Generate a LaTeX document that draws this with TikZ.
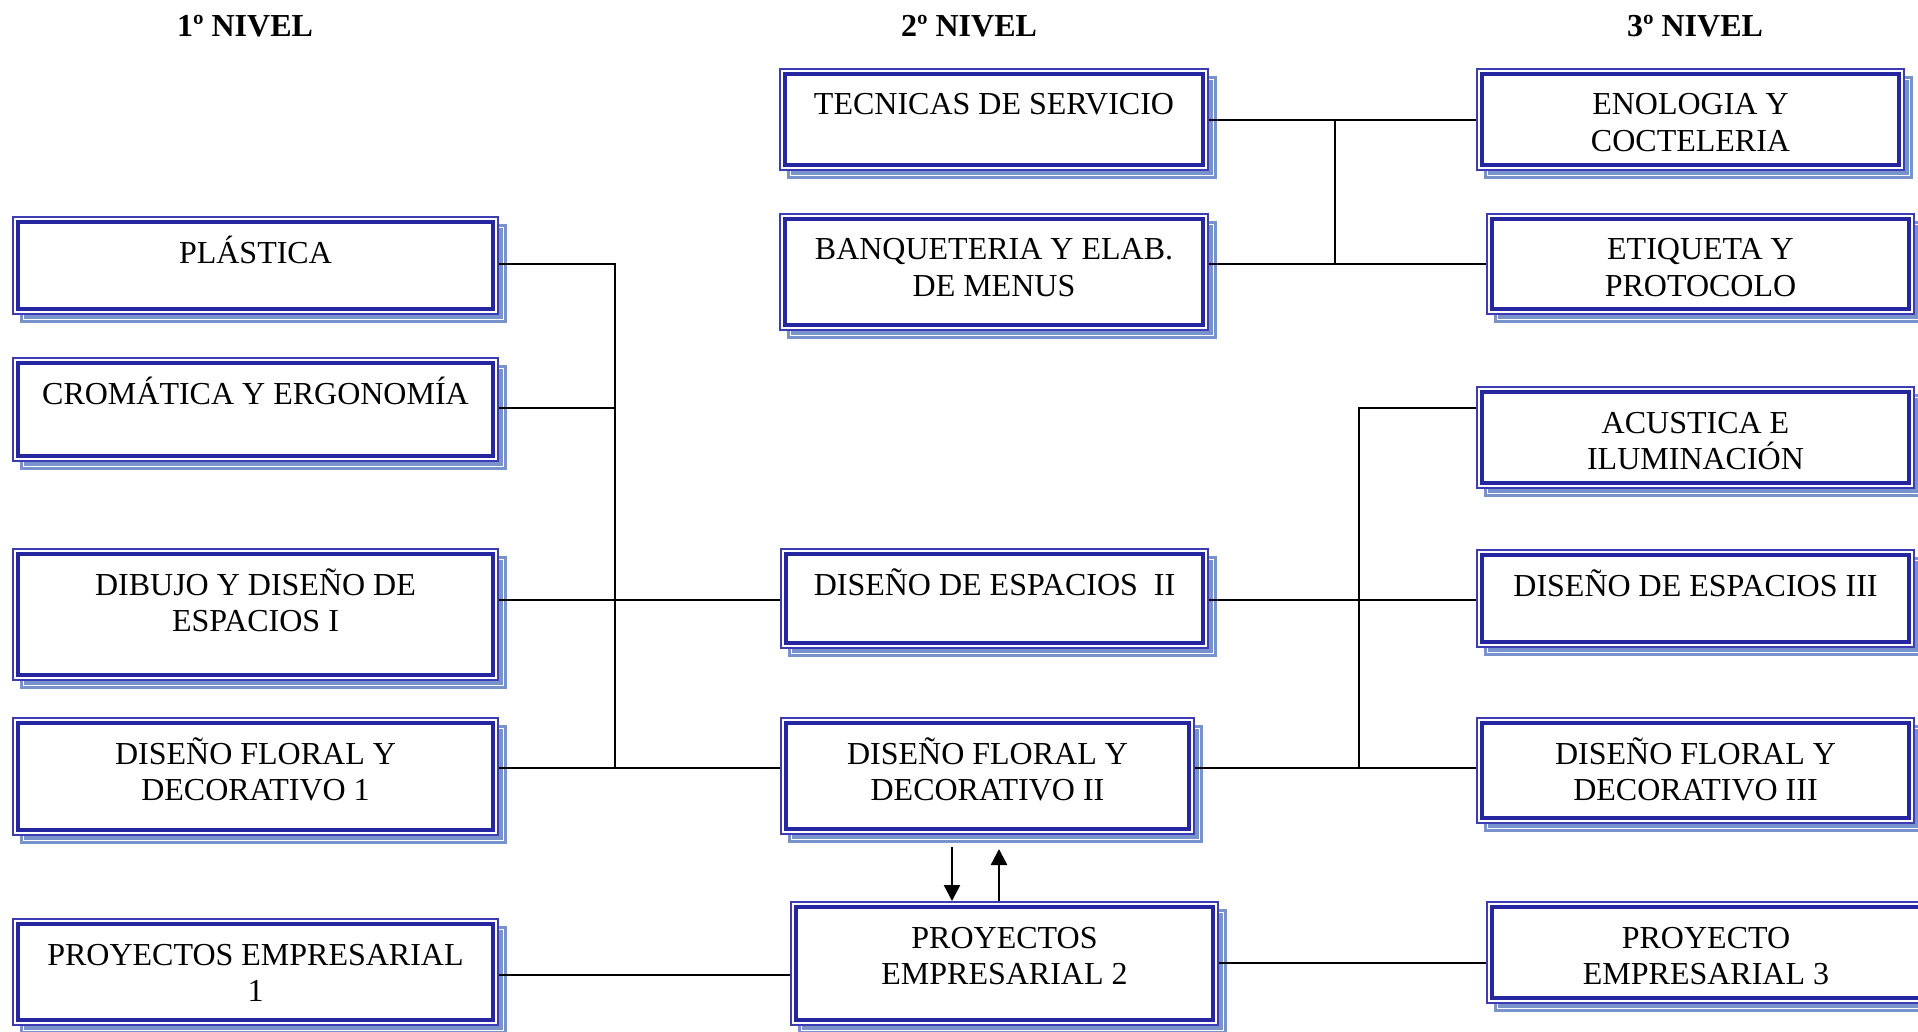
\documentclass[tikz,border=0pt]{standalone}
\usepackage{fontspec}
\setmainfont{Liberation Serif}
\usetikzlibrary{arrows.meta}
\definecolor{shblue}{RGB}{120,147,204}
\definecolor{bdout}{RGB}{60,60,180}
\definecolor{bdin}{RGB}{38,38,160}
\tikzset{
  txt/.style={inner sep=0pt, outer sep=0pt, align=center, font=\fontsize{32}{36.5}\selectfont},
  hdr/.style={inner sep=0pt, font=\fontsize{32}{36}\selectfont\bfseries},
  conn/.style={line width=1.9pt, black},
  arr/.style={line width=2.4pt, black, -{Triangle[length=16pt,width=16pt]}}
}
\newcommand\boxitem[6]{%
  \fill[shblue] ({#2+8},{#3+8}) rectangle ({#4+8},{#5+8});
  \draw[white,line width=1pt] ({#2+11.5},{#3+11.5}) rectangle ({#4+4.5},{#5+4.5});
  \node[inner sep=0pt, outer sep=0pt, fill=white, minimum width={#4-#2}, minimum height={#5-#3}, anchor=north west] (#1) at (#2,#3) {};
  \draw[bdout, line width=2.4pt] ({#2+1.2},{#3+1.2}) rectangle ({#4-1.2},{#5-1.2});
  \draw[bdin, line width=3.4pt] ({#2+6.1},{#3+6.1}) rectangle ({#4-6.1},{#5-6.1});
  \node[txt, anchor=north] at ({(#2+#4)/2},{#3+15}) {\rule{0pt}{1em}#6};
}
\begin{document}
\begin{tikzpicture}[x=1pt,y=-1pt]
\useasboundingbox (0,0) rectangle (1918,1032);
\fill[white] (0,0) rectangle (1918,1032);
\clip (0,0) rectangle (1918,1032);

% headers
\node[hdr, anchor=base] (h1) at (245,37) {1º NIVEL};
\node[hdr, anchor=base] (h2) at (969,37) {2º NIVEL};
\node[hdr, anchor=base] (h3) at (1695,37) {3º NIVEL};

% level 1
\boxitem{plas}{12}{216}{499}{315}{PLÁSTICA}
\boxitem{crom}{12}{357}{499}{462}{CROMÁTICA Y ERGONOMÍA}
\boxitem{dibu}{12}{548}{499}{681}{DIBUJO Y DISEÑO DE\\ESPACIOS I}
\boxitem{flo1}{12}{717}{499}{836}{DISEÑO FLORAL Y\\DECORATIVO 1}
\boxitem{pro1}{12}{918}{499}{1026}{PROYECTOS EMPRESARIAL\\1}

% level 2
\boxitem{tecn}{779}{68}{1209}{171}{TECNICAS DE SERVICIO}
\boxitem{banq}{779}{213}{1209}{331}{BANQUETERIA Y ELAB.\\DE MENUS}
\boxitem{esp2}{780}{548}{1209}{649}{DISEÑO DE ESPACIOS\ \ II}
\boxitem{flo2}{780}{717}{1195}{835}{DISEÑO FLORAL Y\\DECORATIVO II}
\boxitem{pro2}{790}{901}{1219}{1026}{PROYECTOS\\EMPRESARIAL 2}

% level 3
\boxitem{enol}{1476}{68}{1905}{171}{ENOLOGIA Y\\COCTELERIA}
\boxitem{etiq}{1486}{213}{1915}{315}{ETIQUETA Y\\PROTOCOLO}
\boxitem{acus}{1476}{386}{1915}{489}{ACUSTICA E\\ILUMINACIÓN}
\boxitem{esp3}{1476}{549}{1915}{648}{DISEÑO DE ESPACIOS III}
\boxitem{flo3}{1476}{717}{1915}{824}{DISEÑO FLORAL Y\\DECORATIVO III}
\boxitem{pro3}{1486}{901}{1926}{1004}{PROYECTO\\EMPRESARIAL 3}

% junctions
\coordinate (jL1) at (615,264);
\coordinate (jL2) at (615,408);
\coordinate (jL3) at (615,600);
\coordinate (jL4) at (615,768);
\coordinate (jT1) at (1335,120);
\coordinate (jT2) at (1335,264);
\coordinate (jR1) at (1359,408);
\coordinate (jR2) at (1359,600);
\coordinate (jR3) at (1359,768);
\coordinate (jB1) at (650,975);
\coordinate (jB2) at (1350,963);
\coordinate (a1) at (952,847);
\coordinate (a2) at (999,849);

% left bus
\draw[conn] (plas.east |- jL1) -- (jL1) -- (jL4);
\draw[conn] (crom.east |- jL2) -- (jL2);
\draw[conn] (dibu.east |- jL3) -- (esp2.west |- jL3);
\draw[conn] (flo1.east |- jL4) -- (flo2.west |- jL4);

% top right bus
\draw[conn] (tecn.east |- jT1) -- (enol.west |- jT1);
\draw[conn] (banq.east |- jT2) -- (etiq.west |- jT2);
\draw[conn] (jT1) -- (jT2);

% middle right bus
\draw[conn] (acus.west |- jR1) -- (jR1) -- (jR3);
\draw[conn] (esp2.east |- jR2) -- (esp3.west |- jR2);
\draw[conn] (flo2.east |- jR3) -- (flo3.west |- jR3);

% bottom
\draw[conn] (pro1.east |- jB1) -- (pro2.west |- jB1);
\draw[conn] (pro2.east |- jB2) -- (pro3.west |- jB2);

% arrows
\draw[arr] (a1) -- (a1 |- pro2.north);
\draw[arr] (a2 |- pro2.north) -- (a2);
\end{tikzpicture}
\end{document}
